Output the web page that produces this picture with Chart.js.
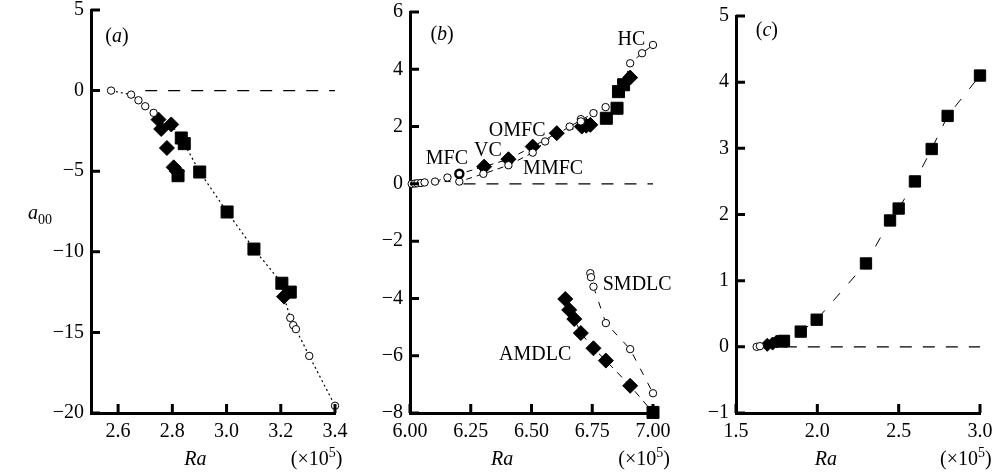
<!DOCTYPE html>
<html>
<head>
<meta charset="utf-8">
<script src="https://cdn.jsdelivr.net/npm/chart.js@4/dist/chart.umd.min.js"></script>
<style>
  html, body { margin: 0; padding: 0; background: #fff; width: 1004px; height: 475px; overflow: hidden; position: relative; }
  canvas { position: absolute; top: -20px; }
</style>
</head>
<body>
<canvas id="panelA" width="360" height="495" style="left:0px"></canvas>
<canvas id="panelB" width="345" height="495" style="left:340px"></canvas>
<canvas id="panelC" width="344" height="495" style="left:660px"></canvas>
<script>
// ---- panel (a) ----
const aXTicks = [2.6, 2.8, 3.0, 3.2, 3.4];
const aYTicks = [5, 0, -5, -10, -15, -20];
const aCircles = [[2.574, 0], [2.648, -0.25], [2.675, -0.6], [2.70, -0.97], [2.731, -1.38],
  [3.235, -14.1], [3.246, -14.55], [3.256, -14.8], [3.305, -16.46], [3.4, -19.55]];
const aDiamonds = [[2.749, -1.8], [2.796, -2.1], [2.759, -2.38], [2.78, -3.56], [2.805, -4.76], [2.817, -5.0], [3.212, -12.78]];
const aSquares = [[2.833, -2.94], [2.844, -3.29], [2.821, -5.28], [2.901, -5.05], [3.002, -7.53], [3.101, -9.83], [3.204, -11.95], [3.235, -12.5]];
const aTrend = [[2.574, 0], [2.648, -0.25], [2.675, -0.6], [2.70, -0.97], [2.731, -1.38], [2.796, -2.1], [2.833, -2.94],
  [2.901, -5.05], [3.002, -7.53], [3.101, -9.83], [3.204, -11.95], [3.212, -12.78], [3.235, -14.1], [3.305, -16.46], [3.4, -19.55]];
const aZero = [[2.70, 0], [3.4, 0]];

// ---- panel (b) ----
const bXTicks = [6.0, 6.25, 6.5, 6.75, 7.0];
const bYTicks = [6, 4, 2, 0, -2, -4, -6, -8];
const bCircles = [[6.007, 0], [6.02, 0.01], [6.03, 0.02], [6.045, 0.03], [6.06, 0.05], [6.103, 0.08], [6.154, 0.22],
  [6.203, 0.08], [6.302, 0.35], [6.405, 0.65], [6.505, 1.09], [6.556, 1.48], [6.657, 2.0], [6.703, 2.26], [6.703, 2.18],
  [6.755, 2.47], [6.805, 2.68], [6.906, 4.21], [6.955, 4.56], [7.0, 4.85],
  [6.742, -3.12], [6.745, -3.26], [6.755, -3.59], [6.806, -4.86], [6.906, -5.77], [7.0, -7.31]];
const bMfc = [[6.203, 0.35]];
const bDiamonds = [[6.305, 0.6], [6.405, 0.86], [6.505, 1.3], [6.604, 1.77], [6.707, 2.0], [6.725, 2.03], [6.742, 2.06], [6.906, 3.71],
  [6.639, -4.02], [6.655, -4.40], [6.676, -4.72], [6.703, -5.21], [6.755, -5.74], [6.806, -6.17], [6.906, -7.05]];
const bSquares = [[6.808, 2.29], [6.852, 2.64], [6.858, 3.22], [6.879, 3.46], [7.0, -7.98]];
const bUpper = [[6.103, 0.08], [6.154, 0.22], [6.203, 0.35], [6.305, 0.6], [6.405, 0.86], [6.505, 1.3], [6.604, 1.77], [6.707, 2.0]];
const bLower = [[6.007, 0], [6.103, 0.08], [6.203, 0.08], [6.302, 0.35], [6.405, 0.65], [6.505, 1.09], [6.556, 1.48],
  [6.657, 2.0], [6.755, 2.47], [6.805, 2.68]];
const bHc = [[6.852, 2.64], [6.879, 3.46], [6.906, 4.21], [6.955, 4.56], [7.0, 4.85]];
const bAmdlc = [[6.639, -4.02], [6.655, -4.40], [6.676, -4.72], [6.703, -5.21], [6.755, -5.74], [6.806, -6.17], [6.906, -7.05], [7.0, -7.98]];
const bSmdlc = [[6.755, -3.59], [6.806, -4.86], [6.906, -5.77], [7.0, -7.31]];
const bZero = [[6.22, 0], [7.0, 0]];

// ---- panel (c) ----
const cXTicks = [1.5, 2.0, 2.5, 3.0];
const cYTicks = [5, 4, 3, 2, 1, 0, -1];
const cCircles = [[1.627, 0], [1.647, 0.01]];
const cDiamonds = [[1.692, 0.03], [1.725, 0.05], [1.75, 0.08]];
const cSquares = [[1.78, 0.08], [1.795, 0.09], [1.898, 0.23], [1.996, 0.41], [2.299, 1.26], [2.447, 1.91], [2.50, 2.09],
  [2.60, 2.50], [2.703, 2.99], [2.801, 3.49], [3.0, 4.10]];
const cTrend = [[1.627, 0], [1.75, 0.08], [1.898, 0.23], [1.996, 0.41], [2.299, 1.26], [2.447, 1.91], [2.50, 2.09],
  [2.60, 2.50], [2.703, 2.99], [2.801, 3.49], [3.0, 4.10]];
const cZero = [[1.8, 0], [3.0, 0]];

const FONT = 'Liberation Serif';

function pts(arr) { return arr.map(p => ({ x: p[0], y: p[1] })); }
function minus(v) { return v < 0 ? '\u2212' + Math.abs(v) : String(v); }

function markers(arr, style, r, fill, bw) {
  return {
    data: pts(arr), showLine: false, clip: false, order: 0,
    pointStyle: style, pointRadius: r, pointHoverRadius: r,
    pointBackgroundColor: fill, pointBorderColor: '#000', pointBorderWidth: bw
  };
}
function line(arr, dash, w) {
  return {
    data: pts(arr), showLine: true, clip: false, order: 10, pointRadius: 0,
    borderColor: '#000', borderWidth: w, borderDash: dash, fill: false
  };
}

function axis(min, max, ticks, fmt, fixSize) {
  return {
    type: 'linear', min: min, max: max,
    afterBuildTicks: s => { s.ticks = ticks.map(v => ({ value: v })); },
    afterFit: fixSize,
    grid: { display: true, drawOnChartArea: false, drawTicks: false },
    border: { display: true, color: '#000', width: 3 },
    ticks: { color: '#000', font: { family: FONT, size: 20 }, padding: 7, autoSkip: false, maxRotation: 0, callback: fmt }
  };
}

// draws text made of upright / italic / superscript runs
function runs(ctx, x, y, parts, align) {
  let total = 0;
  parts.forEach(p => {
    ctx.font = (p.it ? 'italic ' : '') + (p.size || 20) + 'px ' + FONT;
    p.w = ctx.measureText(p.t).width;
    total += p.w;
  });
  let cx = align === 'left' ? x : x - total / 2;
  parts.forEach(p => {
    ctx.font = (p.it ? 'italic ' : '') + (p.size || 20) + 'px ' + FONT;
    ctx.fillText(p.t, cx, y + (p.dy || 0));
    cx += p.w;
  });
}

const panelPlugin = {
  id: 'panel',
  afterDraw(chart, args, opts) {
    const ctx = chart.ctx, a = chart.chartArea, xs = chart.scales.x, ys = chart.scales.y;
    ctx.save();
    ctx.strokeStyle = '#000';
    ctx.lineWidth = 3;
    ctx.beginPath();
    xs.ticks.forEach(t => { const px = xs.getPixelForValue(t.value); ctx.moveTo(px, a.bottom); ctx.lineTo(px, a.bottom - 9); });
    ys.ticks.forEach(t => { const py = ys.getPixelForValue(t.value); ctx.moveTo(a.left, py); ctx.lineTo(a.left + 9, py); });
    ctx.stroke();

    ctx.fillStyle = '#000';
    ctx.textBaseline = 'middle';
    (opts.notes || []).forEach(n => {
      runs(ctx, xs.getPixelForValue(n.x), ys.getPixelForValue(n.y), n.parts, 'center');
    });
    // axis title and multiplier
    const ty = a.bottom + 47;
    runs(ctx, xs.getPixelForValue(opts.raX), ty, [{ t: 'Ra', it: true }], 'center');
    runs(ctx, xs.getPixelForValue(opts.expX), ty,
      [{ t: '(\u00d710' }, { t: '5', size: 14, dy: -7 }, { t: ')' }], 'left');
    if (opts.ylabel) {
      ctx.textBaseline = 'alphabetic';
      runs(ctx, 28, 239, [{ t: 'a', it: true }, { t: '00', size: 14, dy: 5 }], 'left');
    }
    ctx.restore();
  }
};

function makePanel(id, datasets, xAxis, yAxis, pad, panelOpts) {
  return new Chart(document.getElementById(id), {
    type: 'scatter',
    data: { datasets: datasets },
    options: {
      responsive: false, animation: false, events: [],
      layout: { padding: pad },
      scales: { x: xAxis, y: yAxis },
      plugins: { legend: { display: false }, tooltip: { enabled: false }, panel: panelOpts }
    },
    plugins: [panelPlugin]
  });
}

const fmtY = v => minus(v);

makePanel('panelA', [
  markers(aCircles, 'circle', 3.7, '#fff', 1),
  markers(aDiamonds, 'rectRot', 7.5, '#000', 1),
  markers(aSquares, 'rect', 8.5, '#000', 1),
  line(aTrend, [2, 3], 1.2),
  line(aZero, [12, 11], 1.2)
],
  axis(2.5, 3.4, aXTicks, v => v.toFixed(1), s => { s.height = 62; }),
  axis(-20, 5, aYTicks, fmtY, s => { s.width = 91; }),
  { left: 0, right: 25, top: 30, bottom: 0 },
  {
    notes: [{ x: 2.596, y: 3.35, parts: [{ t: '(' }, { t: 'a', it: true }, { t: ')' }] }],
    raX: 2.885, expX: 3.237, ylabel: true
  });

makePanel('panelB', [
  markers(bMfc, 'circle', 4, '#fff', 2.5),
  markers(bCircles, 'circle', 3.7, '#fff', 1),
  markers(bDiamonds, 'rectRot', 7.5, '#000', 1),
  markers(bSquares, 'rect', 8.5, '#000', 1),
  line(bUpper, [6, 5], 1),
  line(bLower, [6, 5], 1),
  line(bHc, [6, 5], 1),
  line(bAmdlc, [7, 6], 1),
  line(bSmdlc, [7, 9], 1),
  line(bZero, [12, 11], 1.2)
],
  axis(6, 7, bXTicks, v => v.toFixed(2), s => { s.height = 62; }),
  axis(-8, 6, bYTicks, fmtY, s => { s.width = 70; }),
  { left: 0, right: 32, top: 32, bottom: 0 },
  {
    notes: [
      { x: 6.132, y: 5.2, parts: [{ t: '(' }, { t: 'b', it: true }, { t: ')' }] },
      { x: 6.911, y: 5.03, parts: [{ t: 'HC' }] },
      { x: 6.441, y: 1.85, parts: [{ t: 'OMFC' }] },
      { x: 6.321, y: 1.15, parts: [{ t: 'VC' }] },
      { x: 6.152, y: 0.87, parts: [{ t: 'MFC' }] },
      { x: 6.589, y: 0.52, parts: [{ t: 'MMFC' }] },
      { x: 6.935, y: -3.53, parts: [{ t: 'SMDLC' }] },
      { x: 6.515, y: -5.97, parts: [{ t: 'AMDLC' }] }
    ],
    raX: 6.379, expX: 6.857
  });

makePanel('panelC', [
  markers(cCircles, 'circle', 3.7, '#fff', 1),
  markers(cDiamonds, 'rectRot', 6.5, '#000', 1),
  markers(cSquares, 'rect', 8, '#000', 1),
  line(cTrend, [10, 13], 1),
  line(cZero, [12, 11], 1.2)
],
  axis(1.5, 3.0, cXTicks, v => v.toFixed(1), s => { s.height = 62; }),
  axis(-1, 5, cYTicks, fmtY, s => { s.width = 76; }),
  { left: 0, right: 24, top: 36, bottom: 0 },
  {
    notes: [{ x: 1.69, y: 4.78, parts: [{ t: '(' }, { t: 'c', it: true }, { t: ')' }] }],
    raX: 2.053, expX: 2.754
  });
</script>
</body>
</html>
